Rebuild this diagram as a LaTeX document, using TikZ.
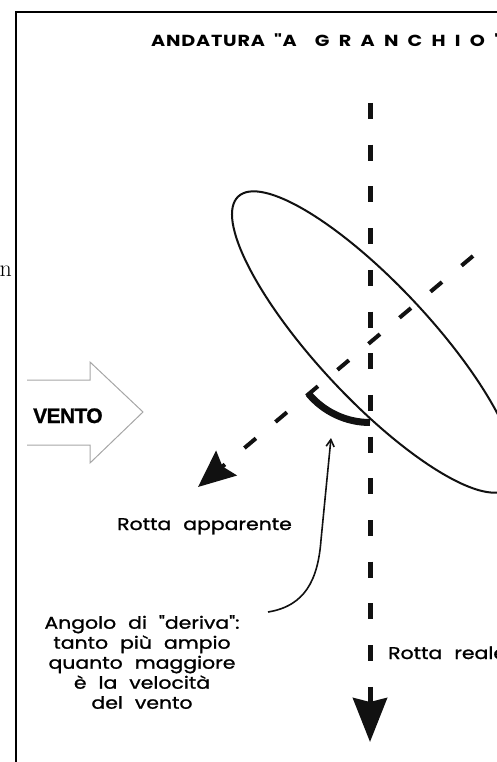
\documentclass[tikz,border=0pt]{standalone}
\usepackage{fontspec}
\usepackage{xcolor}
\usepackage{tikz}
\usetikzlibrary{arrows.meta,positioning}
\newfontfamily\titlefont{Poppins}[LetterSpace=5,FakeStretch=1.2]
\newfontfamily\labelfont{Poppins}[WordSpace=2.2,FakeStretch=1.2,FakeBold=1.2]
\newfontfamily\ventofont{Liberation Sans}[LetterSpace=-3,FakeBold=1]
\definecolor{WindGray}{HTML}{A6A6A6}
\definecolor{SailInk}{HTML}{111111}

\begin{document}
\begin{tikzpicture}[x=1pt,y=-1pt,>=Stealth,
  realcourse/.style={SailInk,line width=5pt,dash pattern=on 16pt off 25.7pt,
    -{Stealth[length=44pt,width=34pt,inset=4pt]}},
  appcourse/.style={SailInk,line width=4pt,dash pattern=on 15pt off 25.5pt,
    -{Stealth[length=37pt,width=32pt,inset=5pt]}},
  callout/.style={SailInk,line width=1.6pt,-{Straight Barb[length=7pt,width=8pt]}},
  textlbl/.style={inner sep=0pt,font=\labelfont\fontsize{17}{20}\selectfont},
  windarrow/.style={WindGray,line width=1pt,line join=miter}]
  \useasboundingbox (0,0) rectangle (497,762);
  \draw[line width=1.5pt] (497,12) -- (16,12) -- (16,762);
  \node[inner sep=0pt,anchor=base east,font=\fontsize{24}{24}\selectfont] (stray) at (12,276) {n};
  \node[inner sep=0pt,anchor=base west,font=\titlefont\bfseries\fontsize{16}{16}\selectfont]
    (title) at (151,47) {ANDATURA\hspace{9pt}"A\hspace{18pt}\addfontfeature{LetterSpace=58}GRANCHIO"};
  \coordinate (realtop) at (370,103);
  \coordinate (realtip) at (370,742);
  \coordinate (apptop) at (473,256);
  \coordinate (apptip) at (198,487);
  \coordinate (cross) at (370,342.5);
  \draw[SailInk,line width=2pt,rotate around={-47:(374,342)}] (374,342) ellipse [x radius=199,y radius=57];
  \draw[realcourse] (realtop) -- (realtip);
  \draw[appcourse] (apptop) -- (apptip);
  \draw[SailInk,line width=7pt] (cross) ++(90:80) arc [start angle=90,end angle=140,radius=80];
  \draw[windarrow] (27,380) -- (90,380) -- (90,362) -- (143,412) -- (90,463) -- (90,445) -- (27,445);
  \node[inner sep=0pt,anchor=base west,font=\ventofont\bfseries\fontsize{21}{21}\selectfont]
    (vento) at (33,423) {VENTO};
  \node[textlbl,anchor=base west] (apparente) at (117,530) {Rotta apparente};
  \node[textlbl,anchor=base west] (reale) at (388,659) {Rotta reale};
  \node[textlbl,align=center,anchor=north] (deriva) at (142,615)
    {Angolo di "deriva":\\tanto più ampio\\quanto maggiore\\è la velocità\\del vento};
  \coordinate (notestart) at (268,612);
  \coordinate (notetip) at (331,438);
  \draw[callout] (notestart) .. controls (305,606) and (318,580) .. (321,540) -- (notetip);
\end{tikzpicture}
\end{document}
